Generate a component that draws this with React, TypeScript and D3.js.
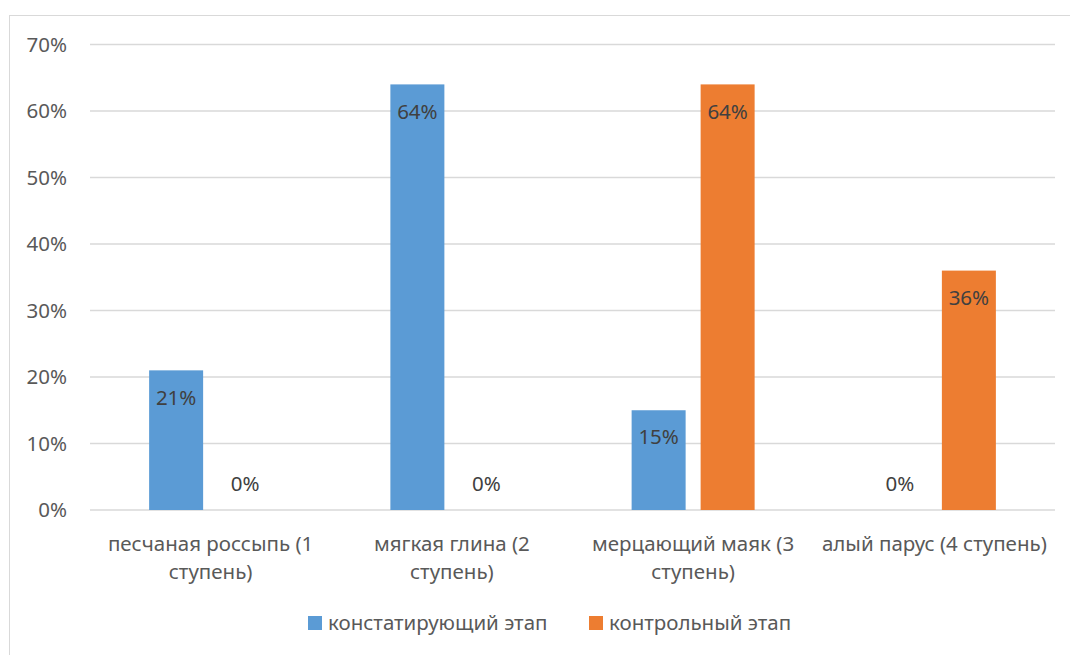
import React from "react";
import * as d3 from "d3";

const categories = [
  ["песчаная россыпь (1", "ступень)"],
  ["мягкая глина (2", "ступень)"],
  ["мерцающий маяк (3", "ступень)"],
  ["алый парус (4 ступень)"],
];
const seriesNames = ["констатирующий этап", "контрольный этап"];
const seriesColors = ["#5B9BD5", "#ED7D31"];
const ascertaining = [0.21, 0.64, 0.15, 0];
const control = [0, 0, 0.64, 0.36];
const yTicks = [0, 0.1, 0.2, 0.3, 0.4, 0.5, 0.6, 0.7];

const FONT = "'Noto Sans', sans-serif";
const TXT = "#595959";
const FS = 20.5;

export default function App() {
  const W = 1070, H = 655;
  const left = 90, right = 1055, top = 44.5, bottom = 510;
  const y = d3.scaleLinear().domain([0, 0.7]).range([bottom, top]);
  const x = d3.scaleBand().domain(categories.map((_, i) => String(i))).range([left, right]).padding(0);
  const bw = 54, gap = 15;
  const series = [ascertaining, control];
  const fmt = d3.format(".0%");

  return (
    <svg width={W} height={H} style={{ position: "absolute", left: 0, top: 0, background: "#fff" }} fontFamily={FONT}>
      <rect x={9.5} y={15.5} width={1100} height={700} fill="#fff" stroke="#D9D9D9" />
      {yTicks.map((t) => (
        <g key={t}>
          <line x1={left} x2={right} y1={y(t)} y2={y(t)} stroke="#D9D9D9" strokeWidth={1.3} />
          <text x={67} y={y(t)} dy="0.35em" textAnchor="end" fontSize={FS} fill={TXT}>{fmt(t)}</text>
        </g>
      ))}
      {categories.map((c, i) => {
        const cx = x(String(i))! + x.bandwidth() / 2;
        return (
          <g key={i}>
            {series.map((s, k) => {
              const x0 = k === 0 ? cx - gap / 2 - bw : cx + gap / 2;
              const v = s[i];
              const yy = y(v);
              const ly = v === 0 ? y(0) - 26 : yy + 27;
              return (
                <g key={k}>
                  {v > 0 && <rect x={x0} y={yy} width={bw} height={y(0) - yy} fill={seriesColors[k]} />}
                  <text x={x0 + bw / 2} y={ly} dy="0.35em" textAnchor="middle" fontSize={FS} fill="#404040">{fmt(v)}</text>
                </g>
              );
            })}
            {c.map((line, j) => (
              <text key={j} x={cx} y={544 + j * 28} dy="0.35em" textAnchor="middle" fontSize={FS} fill={TXT}>{line}</text>
            ))}
          </g>
        );
      })}
      {seriesNames.map((n, k) => {
        const lx = k === 0 ? 308 : 589;
        return (
          <g key={n}>
            <rect x={lx} y={616} width={14} height={14} fill={seriesColors[k]} />
            <text x={lx + 20} y={623} dy="0.35em" fontSize={FS} fill={TXT}>{n}</text>
          </g>
        );
      })}
    </svg>
  );
}
